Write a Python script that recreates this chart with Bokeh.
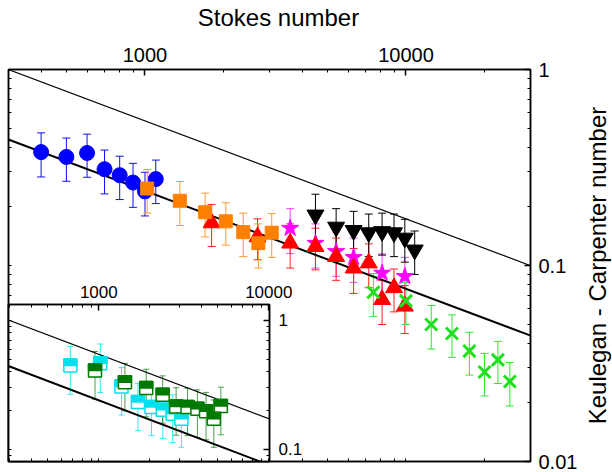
import numpy as np
from jinja2 import Template
from bokeh.plotting import figure
from bokeh.models import (LogAxis, FixedTicker, CustomJSTickFormatter, Whisker,
                          TeeHead, ColumnDataSource)
from bokeh.embed import file_html
from bokeh.resources import INLINE

FONT = "Liberation Sans"

# ---------------- data ----------------
blue_st = [400, 500, 600, 700, 800, 900, 1000, 1100]
blue_kc = [0.379, 0.358, 0.375, 0.310, 0.289, 0.265, 0.239, 0.276]
blue_err = [0.096, 0.089, 0.093, 0.078, 0.072, 0.067, 0.060, 0.069]

orange_st = [1020, 1360, 1700, 2040, 2380, 2720, 3060]
orange_kc = [0.247, 0.214, 0.187, 0.168, 0.148, 0.130, 0.147]
orange_err = [0.062, 0.054, 0.047, 0.041, 0.037, 0.033, 0.037]

red_st = [1800, 2700, 3600, 4500, 5400, 6300, 7200, 8100, 9000, 9900]
red_kc = [0.165, 0.140, 0.130, 0.125, 0.111, 0.097, 0.103, 0.067, 0.077, 0.062]
red_err = [0.040, 0.033, 0.033, 0.030, 0.027, 0.025, 0.026, 0.017, 0.019, 0.017]

magenta_st = [3600, 4500, 5400, 6300, 8100, 9900]
magenta_kc = [0.155, 0.130, 0.118, 0.110, 0.0915, 0.088]
magenta_err = [0.040, 0.033, 0.030, 0.028, 0.023, 0.022]

black_st = [4500, 5400, 6300, 7200, 8100, 9000, 9900, 10800]
black_kc = [0.181, 0.157, 0.151, 0.147, 0.149, 0.147, 0.138, 0.120]
black_err = [0.050, 0.038, 0.038, 0.036, 0.036, 0.036, 0.034, 0.030]

green_st = [7500, 10000, 12500, 15000, 17500, 20000, 22500, 25000]
green_kc = [0.073, 0.066, 0.050, 0.045, 0.0366, 0.0286, 0.033, 0.0256]
green_err = [0.018, 0.016, 0.0125, 0.011, 0.009, 0.007, 0.008, 0.0064]

# inset series
cyan_st = [680, 1020, 1360, 1700, 2040, 2380, 2720, 3060]
cyan_kc = [0.448, 0.467, 0.308, 0.233, 0.213, 0.203, 0.189, 0.173]
cyan_err = [0.180, 0.190, 0.123, 0.093, 0.085, 0.081, 0.076, 0.069]

dgreen_st = [950, 1425, 1900, 2375, 2850, 3325, 3800, 4275, 4750, 5225]
dgreen_kc = [0.410, 0.332, 0.299, 0.266, 0.215, 0.213, 0.207, 0.198, 0.173, 0.217]
dgreen_err = [0.165, 0.133, 0.120, 0.106, 0.086, 0.085, 0.083, 0.079, 0.069, 0.087]

# reference lines KC = C * St^-0.5
line_exp = -0.5
thin_coef = 17.3
thick_coef = 7.6
line_st = [250, 40000]

# axis ticks and titles
x_major = [1000, 10000]
x_minor = [m * 10 ** e for e in (2, 3, 4) for m in range(2, 10)]
y_major_main = [0.01, 0.1, 1]
y_minor_main = [m * 10.0 ** e for e in (-2, -1) for m in range(2, 10)]
y_major_inset = [0.1, 1]
y_minor_inset = [m * 10.0 ** e for e in (-2, -1) for m in range(2, 10)]
x_title = "Stokes number"
y_title = "Keulegan - Carpenter number"

MAIN_X = (300, 30000)
MAIN_Y = (0.01, 1)
INSET_X = (294.3, 10095)
INSET_Y = (0.0807, 1.33)
INSET_FRAME_H = 157


def style_axis(ax, size, standoff):
    ax.axis_line_color = "black"
    ax.axis_line_width = 1.5
    ax.major_tick_in = 6
    ax.major_tick_out = 0
    ax.minor_tick_in = 3
    ax.minor_tick_out = 0
    ax.major_tick_line_color = "black"
    ax.major_tick_line_width = 1.5
    ax.minor_tick_line_color = "black"
    ax.minor_tick_line_width = 1
    ax.major_label_text_font = FONT
    ax.major_label_text_font_size = size
    ax.major_label_text_color = "black"
    ax.major_label_standoff = standoff


def mirror_axis(fig, side, minors):
    ax = LogAxis(ticker=FixedTicker(ticks=[], minor_ticks=minors))
    style_axis(ax, "10px", 0)
    fig.add_layout(ax, side)


def errorbars(fig, st, kc, err, color, head, alpha=1.0, width=1):
    src = ColumnDataSource(dict(x=st,
                                lo=[k - e for k, e in zip(kc, err)],
                                hi=[k + e for k, e in zip(kc, err)]))
    w = Whisker(source=src, base="x", lower="lo", upper="hi", dimension="height",
                line_color=color, line_width=width, line_alpha=alpha,
                upper_head=TeeHead(size=head, line_color=color, line_width=width, line_alpha=alpha),
                lower_head=TeeHead(size=head, line_color=color, line_width=width, line_alpha=alpha))
    fig.add_layout(w)


def title_figure(text, location, width, height, name):
    f = figure(width=width, height=height, title=text, title_location=location,
               x_axis_location=None, y_axis_location=None,
               output_backend="svg", toolbar_location=None,
               min_border=0, name=name)
    f.title.align = "center"
    f.title.vertical_align = "middle"
    f.title.text_font = FONT
    f.title.text_font_size = "24px"
    f.title.text_font_style = "normal"
    f.title.text_color = "black"
    f.title.standoff = 0
    f.outline_line_color = None
    f.background_fill_alpha = 0
    f.border_fill_alpha = 0
    f.grid.visible = False
    return f


fmt_code = "return String(tick);"

# ---------------- main figure ----------------
p = figure(width=612, height=472, x_axis_type="log", y_axis_type="log",
           x_range=MAIN_X, y_range=MAIN_Y,
           x_axis_location="above", y_axis_location="right",
           output_backend="svg", toolbar_location=None,
           min_border_left=8, min_border_right=82, min_border_top=69, min_border_bottom=11,
           name="main_fig")
p.background_fill_color = "white"
p.border_fill_color = "white"
p.outline_line_color = "black"
p.outline_line_width = 1.5
p.grid.visible = False

xa = p.above[0]
xa.ticker = FixedTicker(ticks=x_major, minor_ticks=x_minor)
xa.formatter = CustomJSTickFormatter(code=fmt_code)
style_axis(xa, "20px", 8)

ya = p.right[0]
ya.ticker = FixedTicker(ticks=y_major_main, minor_ticks=y_minor_main)
ya.formatter = CustomJSTickFormatter(code=fmt_code)
style_axis(ya, "20px", 8)

mirror_axis(p, "below", x_minor + x_major)
mirror_axis(p, "left", y_minor_main + y_major_main)

p.line(line_st, [thin_coef * s ** line_exp for s in line_st], line_color="black", line_width=1.2)
p.line(line_st, [thick_coef * s ** line_exp for s in line_st], line_color="black", line_width=2)

errorbars(p, blue_st, blue_kc, blue_err, "#1010F0", 8)
errorbars(p, magenta_st, magenta_kc, magenta_err, "#FF40FF", 8)
errorbars(p, red_st, red_kc, red_err, "#FF2020", 8)
errorbars(p, orange_st, orange_kc, orange_err, "#FF9A30", 8)
errorbars(p, black_st, black_kc, black_err, "black", 8)
errorbars(p, green_st, green_kc, green_err, "#33E633", 8)

p.scatter(blue_st, blue_kc, marker="circle", size=15, fill_color="#0000FF", line_color="#0000FF")
p.scatter(magenta_st, magenta_kc, marker="star", size=18, fill_color="#FF00FF", line_color="#FF00FF")
p.scatter(red_st, red_kc, marker="triangle", size=17, fill_color="#FF0000", line_color="#FF0000")
p.scatter(orange_st, orange_kc, marker="square", size=13, fill_color="#FF8000", line_color="#FF8000")
p.scatter(black_st, black_kc, marker="inverted_triangle", size=17, fill_color="black", line_color="black")
p.scatter(green_st, green_kc, marker="x", size=17, line_color="#1EE01E", line_width=3)

# ---------------- axis titles ----------------
xt = title_figure(x_title, "above", 300, 40, "xt_fig")
yt = title_figure(y_title, "left", 40, 392, "yt_fig")

# ---------------- inset figure ----------------
ins = figure(width=309, height=189, x_axis_type="log", y_axis_type="log",
             x_range=INSET_X, y_range=INSET_Y,
             x_axis_location="above", y_axis_location="right",
             output_backend="svg", toolbar_location=None,
             min_border_left=8, min_border_right=40, min_border_top=30, min_border_bottom=2,
             name="inset_fig")
ins.background_fill_color = "white"
ins.border_fill_alpha = 0
ins.outline_line_color = "black"
ins.outline_line_width = 1.5
ins.grid.visible = False

ixa = ins.above[0]
ixa.ticker = FixedTicker(ticks=x_major, minor_ticks=x_minor)
ixa.formatter = CustomJSTickFormatter(code=fmt_code)
style_axis(ixa, "17px", 7)

iya = ins.right[0]
iya.ticker = FixedTicker(ticks=y_major_inset, minor_ticks=y_minor_inset)
iya.formatter = CustomJSTickFormatter(code=fmt_code)
style_axis(iya, "17px", 9)

mirror_axis(ins, "below", x_minor + x_major)
mirror_axis(ins, "left", y_minor_inset + y_major_inset)

ins.line(line_st, [thin_coef * s ** line_exp for s in line_st], line_color="black", line_width=1.2)
ins.line(line_st, [thick_coef * s ** line_exp for s in line_st], line_color="black", line_width=2)

errorbars(ins, cyan_st, cyan_kc, cyan_err, "#33E8F5", 6)
errorbars(ins, dgreen_st, dgreen_kc, dgreen_err, "#208A20", 6, alpha=0.8)

px_per_decade = INSET_FRAME_H / np.log10(INSET_Y[1] / INSET_Y[0])
half_shift = 10 ** ((13 / 4) / px_per_decade)


def half_squares(fig, st, kc, color):
    fig.scatter(st, kc, marker="square", size=13, fill_color="white",
                line_color=color, line_width=1.5)
    fig.rect(x=st, y=[k * half_shift for k in kc], width=13, height=6.5,
             width_units="screen", height_units="screen",
             fill_color=color, line_color=color, line_width=1.5)


half_squares(ins, cyan_st, cyan_kc, "#00E1F0")
half_squares(ins, dgreen_st, dgreen_kc, "#007A00")

PAGE = Template("""{% from macros import embed %}
<!DOCTYPE html>
<html lang="en">
<head>
<meta charset="utf-8">
<title>{{ title }}</title>
<style>
html, body { margin: 0; padding: 0; overflow: hidden; background: #ffffff; }
</style>
{{ bokeh_css if bokeh_css }}
{{ bokeh_js if bokeh_js }}
</head>
<body>
<div style="position: relative; width: 612px; height: 472px; overflow: hidden;">
<div style="position: absolute; left: 0px; top: 0px;">{{ embed(roots.main_fig) }}</div>
<div style="position: absolute; left: 128px; top: 2px;">{{ embed(roots.xt_fig) }}</div>
<div style="position: absolute; left: 582px; top: 69px;">{{ embed(roots.yt_fig) }}</div>
<div style="position: absolute; left: 0px; top: 274px;">{{ embed(roots.inset_fig) }}</div>
</div>
{{ plot_script }}
</body>
</html>
""")

html = file_html([p, xt, yt, ins], INLINE, title="Keulegan-Carpenter vs Stokes", template=PAGE)
open("out.html", "w").write(html)
